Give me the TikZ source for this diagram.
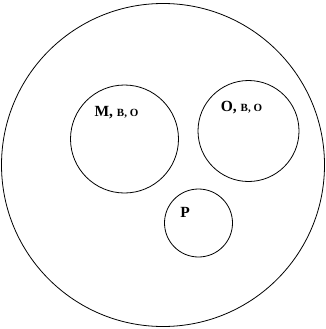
\documentclass[tikz,border=0pt]{standalone}
\usepackage{fontspec}
\setmainfont{Liberation Serif}
\tikzset{
  setring/.style={draw=black,circle,inner sep=0pt,line width=0.8pt},
  setname/.style={font=\fontsize{15.5}{17}\selectfont\bfseries,inner sep=0pt}
}
\newcommand{\smallset}[1]{{\fontsize{11}{13}\selectfont #1}}

\begin{document}
\begin{tikzpicture}[x=1pt,y=-1pt]
  \useasboundingbox (0,0) rectangle (326,329);
  \node[setring,minimum size=323pt] (world) at (163,165) {};
  \node[setring,minimum size=108pt] (mbo) at (124.5,139) {};
  \node[setring,minimum size=101pt] (obo) at (248.5,131) {};
  \node[setring,minimum size=68pt] (p) at (198.5,223) {};
  % set names written near the top of each ring
  \node[setname] (mbolabel) at (116.5,113) {M, \smallset{B, O}};
  \node[setname] (obolabel) at (241.5,108) {O, \smallset{B, O}};
  \node[setname] (plabel) at (185,212) {P};
\end{tikzpicture}
\end{document}
